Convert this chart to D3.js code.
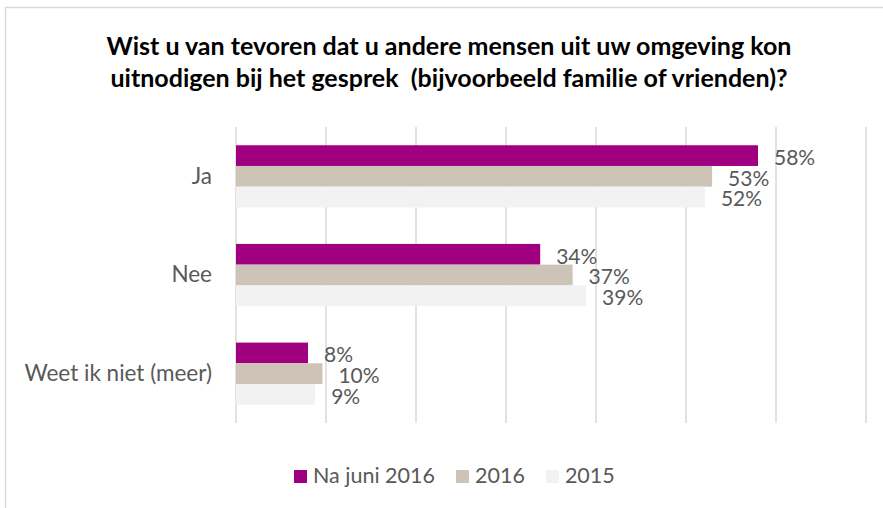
<!DOCTYPE html>
<html>
<head>
<meta charset="utf-8">
<script src="https://cdn.jsdelivr.net/npm/d3@7"></script>
<style>
  body { margin: 0; background: #fff; }
  svg { display: block; font-family: Lato, "Open Sans", sans-serif; }
</style>
</head>
<body>
<svg width="883" height="508"></svg>
<script>
// chart data
const titleLines = [
    "Wist u van tevoren dat u andere mensen uit uw omgeving kon",
    "uitnodigen bij het gesprek  (bijvoorbeeld familie of vrienden)?"
];
const categories = ["Ja", "Nee", "Weet ik niet (meer)"];
const seriesNames = ["Na juni 2016", "2016", "2015"];
const seriesColors = ["#A0007F", "#CEC3B7", "#F2F2F2"];
const naJuni2016 = [58.0, 33.8, 8.0];
const y2016 = [52.9, 37.4, 9.6];
const y2015 = [52.1, 38.9, 8.8];
const valueLabels = [["58%", "34%", "8%"], ["53%", "37%", "10%"], ["52%", "39%", "9%"]];
const xTicks = [0, 10, 20, 30, 40, 50, 60, 70];

const seriesValues = [naJuni2016, y2016, y2015];

let svg = d3.select("svg");
let textColor = "#595959";

svg.append("rect")
    .attr("width", 883).attr("height", 508)
    .attr("fill", "#fff");

// outer chart border
svg.append("rect")
    .attr("x", 5.5).attr("y", 7.5)
    .attr("width", 900).attr("height", 520)
    .attr("fill", "none")
    .attr("stroke", "#D9D9D9")
    .attr("stroke-width", 1.5);

svg.selectAll(".title")
    .data(titleLines)
    .enter().append("text")
    .attr("class", "title")
    .attr("x", 449)
    .attr("y", (d, i) => 55 + i * 32)
    .attr("text-anchor", "middle")
    .style("font-weight", "bold")
    .style("font-size", "25px")
    .style("white-space", "pre")
    .attr("fill", "#000")
    .text(d => d);

let xScale = d3.scaleLinear()
    .domain([0, 70])
    .range([236, 866]);

let yScale = d3.scaleBand()
    .domain(categories)
    .range([127, 423])
    .paddingInner(0.37)
    .paddingOuter(0.185);

let subScale = d3.scaleBand()
    .domain(seriesNames)
    .range([0, yScale.bandwidth()]);

// gridlines
svg.append("g")
    .selectAll("line")
    .data(xTicks)
    .enter().append("line")
    .attr("x1", d => xScale(d))
    .attr("x2", d => xScale(d))
    .attr("y1", 127)
    .attr("y2", 423)
    .attr("stroke", "#D9D9D9")
    .attr("stroke-width", 1.5);

// category axis
let yAxis = d3.axisLeft(yScale).tickSize(0).tickPadding(24);
let axisG = svg.append("g")
    .attr("transform", "translate(" + xScale(0) + ",0)")
    .call(yAxis);
axisG.select(".domain").remove();
axisG.selectAll("text")
    .style("font-family", "Lato, sans-serif")
    .style("font-size", "22.5px")
    .attr("fill", textColor);

// bars
seriesNames.forEach((name, s) => {
    let g = svg.append("g");
    g.selectAll("rect")
        .data(categories)
        .enter().append("rect")
        .attr("x", xScale(0))
        .attr("y", d => yScale(d) + subScale(name))
        .attr("width", (d, i) => xScale(seriesValues[s][i]) - xScale(0))
        .attr("height", subScale.bandwidth())
        .attr("fill", seriesColors[s]);
    g.selectAll("text")
        .data(categories)
        .enter().append("text")
        .attr("x", (d, i) => xScale(seriesValues[s][i]) + 16)
        .attr("y", d => yScale(d) + subScale(name) + subScale.bandwidth() / 2 + 2)
        .attr("dy", "0.35em")
        .style("font-size", "21px")
        .attr("fill", textColor)
        .text((d, i) => valueLabels[s][i]);
});

// legend
let legend = svg.append("g");
let lx = 294;
seriesNames.forEach((name, s) => {
    legend.append("rect")
        .attr("x", lx).attr("y", 470)
        .attr("width", 13).attr("height", 13)
        .attr("fill", seriesColors[s]);
    let t = legend.append("text")
        .attr("x", lx + 19)
        .attr("y", 483)
        .style("font-size", "21.5px")
        .attr("fill", textColor)
        .text(name);
    lx += 19 + t.node().getComputedTextLength() + 21;
});
</script>
</body>
</html>
